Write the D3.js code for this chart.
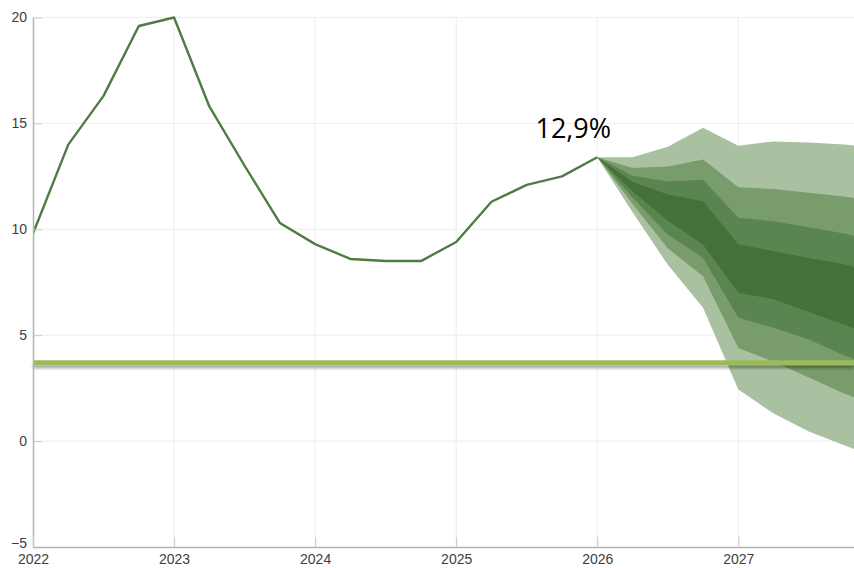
<!DOCTYPE html>
<html>
<head>
<meta charset="utf-8">
<script src="https://cdn.jsdelivr.net/npm/d3@7"></script>
<style>
  body { margin: 0; background: #fff; }
  svg { display: block; }
</style>
</head>
<body>
<div id="chart"></div>
<script>
// History (quarterly, decimal years)
const histYears = [2022, 2022.25, 2022.5, 2022.75, 2023, 2023.25, 2023.5, 2023.75,
  2024, 2024.25, 2024.5, 2024.75, 2025, 2025.25, 2025.5, 2025.75, 2026];
const histValues = [9.8, 14.0, 16.3, 19.6, 20.0, 15.8, 13.0, 10.3,
  9.3, 8.6, 8.5, 8.5, 9.4, 11.3, 12.1, 12.5, 13.4];

// Fan chart bands (outer -> inner)
const fanYears = [2026, 2026.25, 2026.5, 2026.75, 2027, 2027.25, 2027.5, 2027.75, 2028];
const fanOuterHigh = [13.4, 13.4, 13.9, 14.8, 13.95, 14.15, 14.1, 14.0, 13.85];
const fan2High     = [13.4, 12.9, 12.97, 13.3, 11.98, 11.9, 11.72, 11.55, 11.3];
const fan3High     = [13.4, 12.53, 12.26, 12.34, 10.54, 10.38, 10.1, 9.8, 9.4];
const fanInnerHigh = [13.4, 12.24, 11.64, 11.32, 9.3, 8.96, 8.65, 8.35, 7.9];
const fanInnerLow  = [13.4, 11.8, 10.4, 9.28, 7.0, 6.7, 6.1, 5.5, 4.9];
const fan3Low      = [13.4, 11.5, 9.75, 8.66, 5.82, 5.35, 4.8, 4.05, 3.4];
const fan2Low      = [13.4, 11.2, 9.1, 7.78, 4.4, 3.75, 3.0, 2.25, 1.6];
const fanOuterLow  = [13.4, 10.8, 8.33, 6.3, 2.44, 1.3, 0.45, -0.2, -0.8];

const targetValue = 3.7;
const yTicks = [-5, 0, 5, 10, 15, 20];
const xTicks = [2022, 2023, 2024, 2025, 2026, 2027];
const labelText = "12,9%";

const W = 854, H = 568;
const margin = { top: 17.5, right: 0, bottom: 21, left: 33 };

const svg = d3.select("#chart").append("svg")
  .attr("width", W).attr("height", H);

const x = d3.scaleLinear().domain([2022, 2027.82]).range([margin.left, W - margin.right]);
const y = d3.scaleLinear().domain([-5, 20]).range([H - margin.bottom, margin.top]);

const defs = svg.append("defs");
defs.append("clipPath").attr("id", "plot")
  .append("rect")
  .attr("x", margin.left).attr("y", margin.top - 5)
  .attr("width", W - margin.left).attr("height", H - margin.bottom - margin.top + 5);
const shadow = defs.append("filter").attr("id", "shadow")
  .attr("filterUnits", "userSpaceOnUse")
  .attr("x", 0).attr("y", 0).attr("width", W).attr("height", H);
shadow.append("feDropShadow")
  .attr("dx", 0).attr("dy", 3).attr("stdDeviation", 1.8)
  .attr("flood-color", "#000").attr("flood-opacity", 0.35);

// grid
svg.append("g").selectAll("line").data(yTicks.filter(d => d > -5)).enter().append("line")
  .attr("x1", margin.left).attr("x2", W)
  .attr("y1", d => y(d)).attr("y2", d => y(d))
  .attr("stroke", "#ededed").attr("stroke-width", 1);
svg.append("g").selectAll("line").data(xTicks.filter(d => d > 2022)).enter().append("line")
  .attr("x1", d => x(d)).attr("x2", d => x(d))
  .attr("y1", margin.top).attr("y2", H - margin.bottom)
  .attr("stroke", "#ededed").attr("stroke-width", 1);

// fan bands
const plot = svg.append("g").attr("clip-path", "url(#plot)");
const bands = [
  { hi: fanOuterHigh, lo: fanOuterLow, color: "#a9c1a1" },
  { hi: fan2High, lo: fan2Low, color: "#799c6d" },
  { hi: fan3High, lo: fan3Low, color: "#5a8550" },
  { hi: fanInnerHigh, lo: fanInnerLow, color: "#447138" }
];
const area = d3.area()
  .x(d => x(d.t)).y0(d => y(d.lo)).y1(d => y(d.hi));
bands.forEach(b => {
  const pts = fanYears.map((t, i) => ({ t: t, hi: b.hi[i], lo: b.lo[i] }));
  plot.append("path").datum(pts)
    .attr("d", area)
    .attr("fill", b.color);
});

// history line
const line = d3.line().x((d, i) => x(histYears[i])).y(d => y(d));
plot.append("path").datum(histValues)
  .attr("d", line)
  .attr("fill", "none")
  .attr("stroke", "#4f7c44")
  .attr("stroke-width", 2.4)
  .attr("stroke-linejoin", "round");

// target line
svg.append("line")
  .attr("x1", margin.left).attr("x2", W)
  .attr("y1", y(targetValue)).attr("y2", y(targetValue))
  .attr("stroke", "#9bbb59").attr("stroke-width", 5)
  .attr("filter", "url(#shadow)");

// axes
const yAxis = svg.append("g")
  .attr("transform", `translate(${margin.left},0)`)
  .call(d3.axisLeft(y).tickValues(yTicks).tickSizeInner(-9).tickSizeOuter(0).tickPadding(6));
const xAxis = svg.append("g")
  .attr("transform", `translate(0,${H - margin.bottom})`)
  .call(d3.axisBottom(x).tickValues(xTicks).tickFormat(d3.format("d"))
    .tickSizeInner(-10).tickSizeOuter(0).tickPadding(3));
[yAxis, xAxis].forEach(g => {
  g.select(".domain").attr("stroke", "#b3b3b3").attr("stroke-width", 1.5);
  g.selectAll(".tick line").attr("stroke", "#c8c8c8");
  g.selectAll("text")
    .attr("fill", "#404040")
    .style("font-family", "'Liberation Sans', Arial, sans-serif")
    .style("font-size", "14px");
});
xAxis.selectAll("text").attr("y", 17).attr("dy", null);
yAxis.selectAll(".tick").filter(d => d === -5).select("text").attr("dy", "0.05em");

// annotation
svg.append("text")
  .attr("x", x(2025.83)).attr("y", 138)
  .attr("text-anchor", "middle")
  .style("font-family", "'Open Sans', sans-serif")
  .style("font-size", "27px")
  .attr("fill", "#000")
  .text(labelText);
</script>
</body>
</html>
